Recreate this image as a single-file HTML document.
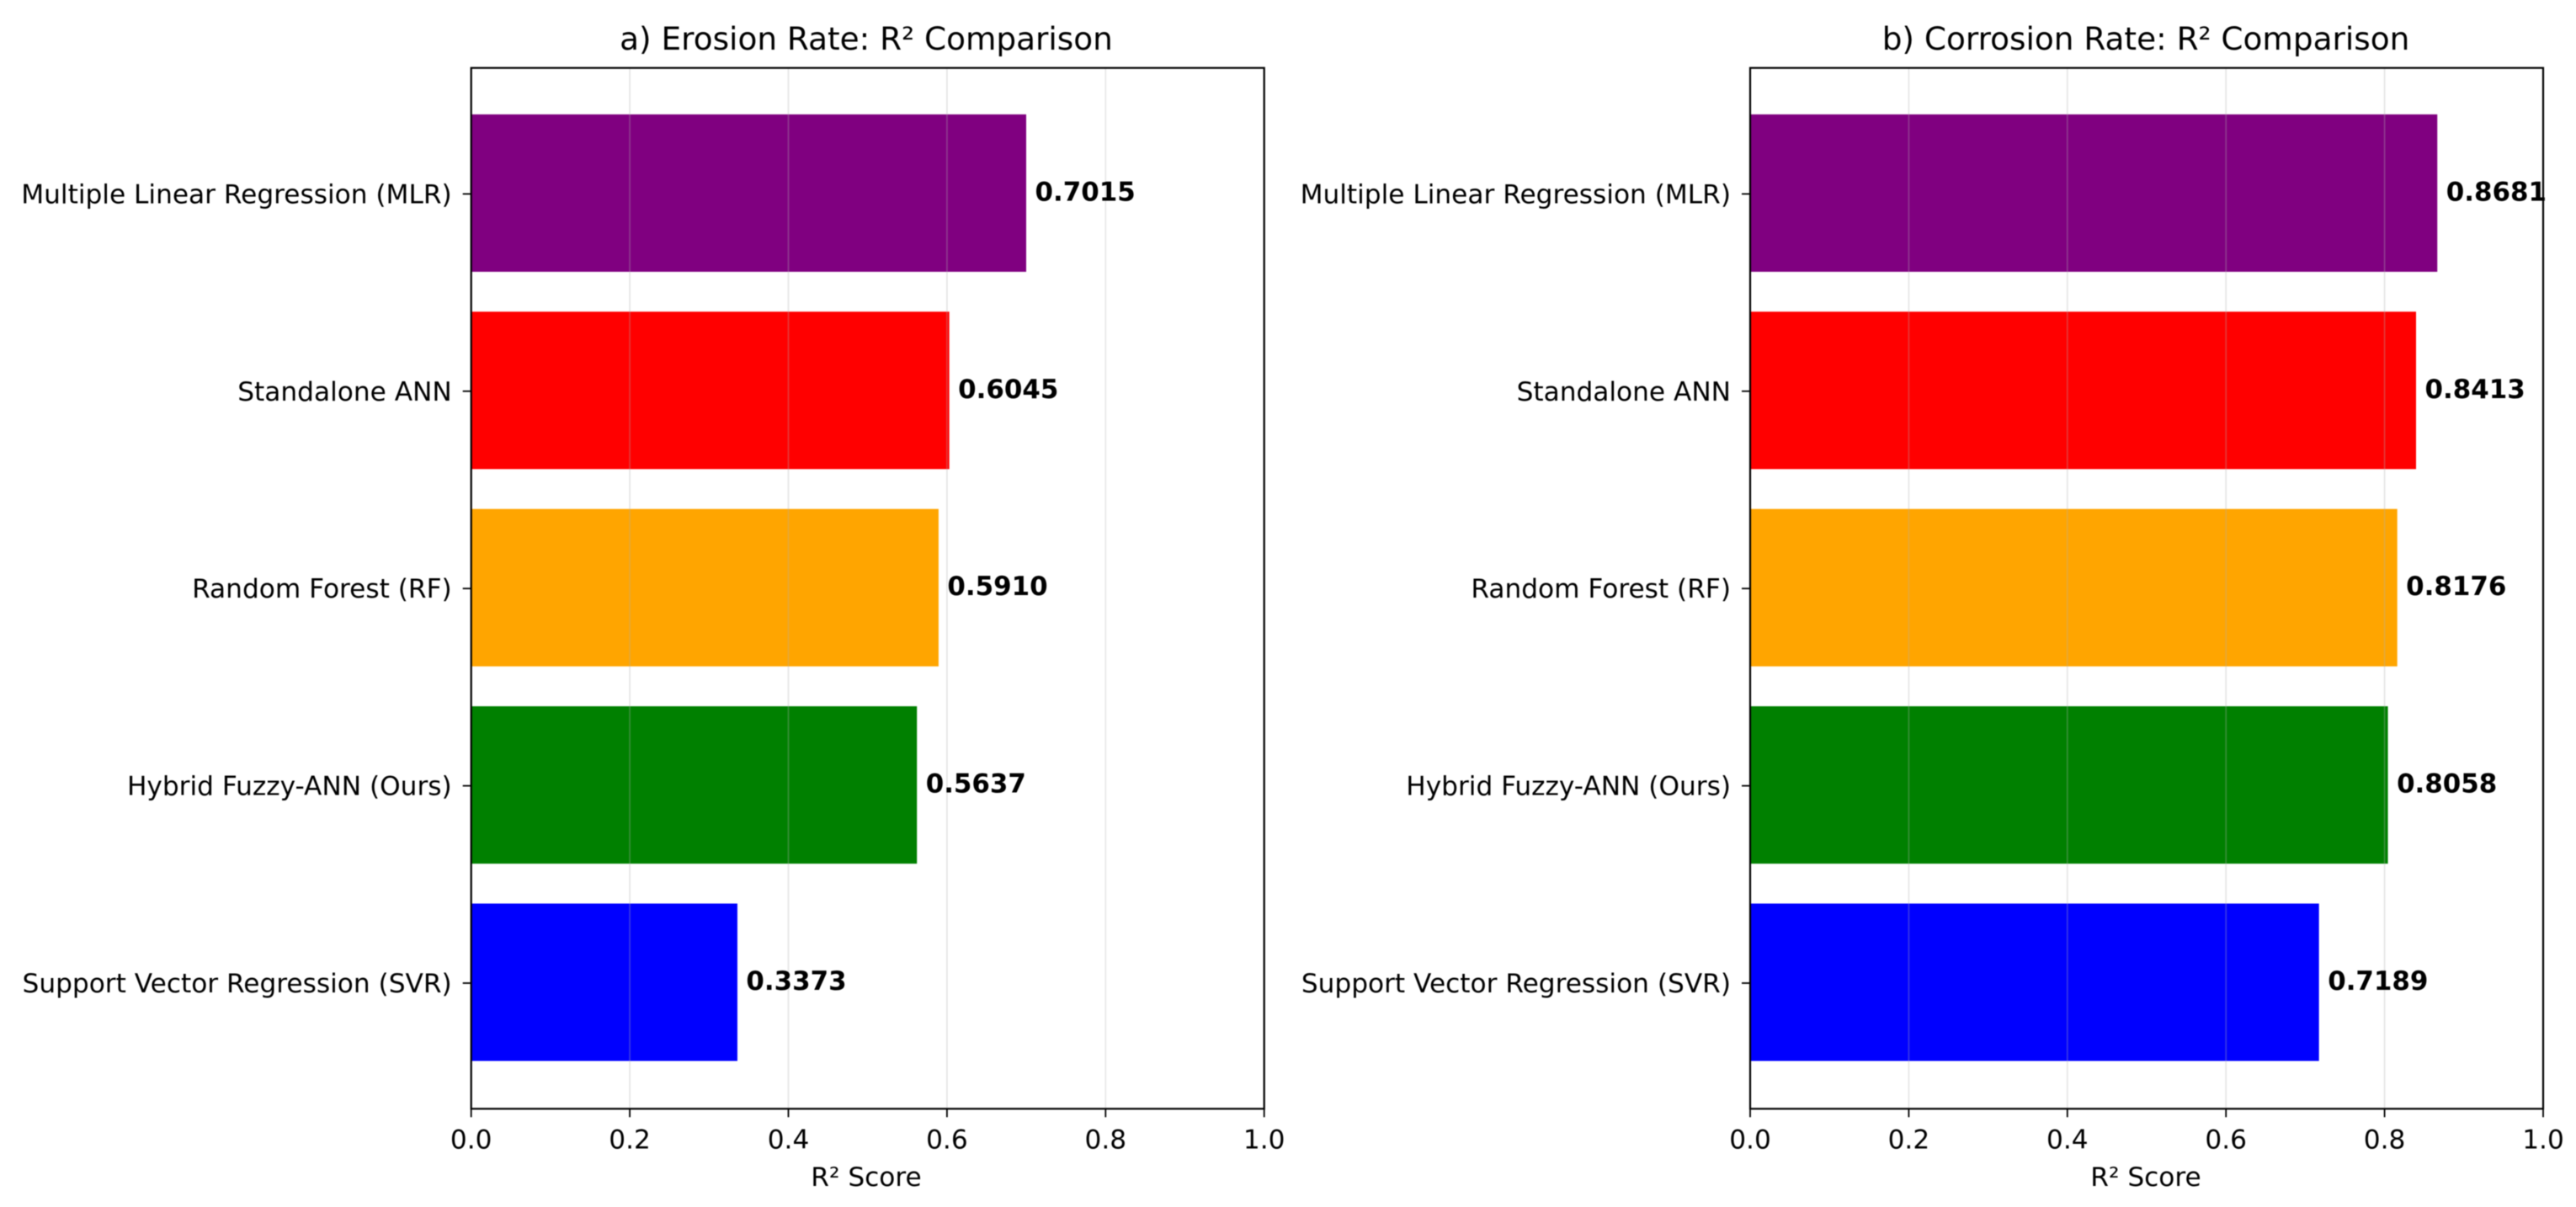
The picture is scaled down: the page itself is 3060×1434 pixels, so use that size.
<!DOCTYPE html>
<html lang="en">
<head>
<meta charset="utf-8">
<title>R² Comparison</title>
<style>
html,body{margin:0;padding:0;background:#fff;}
svg{display:block;filter:blur(0.5px);}
text{font-family:"DejaVu Sans","Liberation Sans",sans-serif;fill:#000;}
.tick-label{font-size:31.2px;}
.axis-title{font-size:31.2px;}
.panel-title{font-size:37.4px;}
.value-label{font-size:30.9px;font-weight:700;}
</style>
</head>
<body>
<svg id="figure" xmlns="http://www.w3.org/2000/svg" width="3060" height="1434" viewBox="0 0 3060 1434">
  <rect x="0" y="0" width="3060" height="1434" fill="#fff"/>
  <g id="panel-a">
    <text class="panel-title" x="1029" y="59" text-anchor="middle">a) Erosion Rate: R² Comparison</text>
    <text class="axis-title" x="1029" y="1409" text-anchor="middle">R² Score</text>
  </g>
  <g id="panel-b">
    <text class="panel-title" x="2549" y="59" text-anchor="middle">b) Corrosion Rate: R² Comparison</text>
    <text class="axis-title" x="2549" y="1409" text-anchor="middle">R² Score</text>
  </g>
</svg>
<script>
const categories = ["Multiple Linear Regression (MLR)", "Standalone ANN", "Random Forest (RF)", "Hybrid Fuzzy-ANN (Ours)", "Support Vector Regression (SVR)"];
const erosionValues = [0.7015, 0.6045, 0.5910, 0.5637, 0.3373];
const corrosionValues = [0.8681, 0.8413, 0.8176, 0.8058, 0.7189];
const xTickValues = [0, 0.2, 0.4, 0.6, 0.8, 1.0];
const barColors = ["#800080", "#ff0000", "#ffa500", "#008000", "#0000ff"];

const NS = "http://www.w3.org/2000/svg";
const AXIS_TOP = 80.7, AXIS_BOTTOM = 1317.3, AXIS_WIDTH = 942;
const BAND_START = 229.4, BAND_STEP = 234.4, BAR_HEIGHT = 187;

function make(tag, attrs, parent, content) {
  const el = document.createElementNS(NS, tag);
  for (const k in attrs) el.setAttribute(k, attrs[k]);
  if (content !== undefined) el.textContent = content;
  parent.appendChild(el);
  return el;
}

function drawPanel(group, values, left) {
  const xScale = v => left + v * AXIS_WIDTH;
  const yScale = i => BAND_START + i * BAND_STEP;

  values.forEach((v, i) => {
    const bar = make("rect", {x: xScale(0), y: yScale(i) - BAR_HEIGHT / 2, width: xScale(v) - xScale(0) - 1.5, height: BAR_HEIGHT, fill: barColors[i]}, group);
    
    
  });

  xTickValues.forEach(t => {
    const grid = make("line", {x1: xScale(t), x2: xScale(t), y1: AXIS_TOP, y2: AXIS_BOTTOM, stroke: "#b0b0b0", "stroke-opacity": 0.3, "stroke-width": 1.8}, group);
    
    

    const tick = make("line", {x1: xScale(t), x2: xScale(t), y1: AXIS_BOTTOM, y2: AXIS_BOTTOM + 10, stroke: "#000", "stroke-width": 1.8}, group);
    
    

    const label = make("text", {x: xScale(t), y: 1364.5, "text-anchor": "middle", class: "tick-label"}, group, t.toFixed(1));
    
    
  });

  categories.forEach((c, i) => {
    const tick = make("line", {x1: left - 10, x2: left, y1: yScale(i) + 1, y2: yScale(i) + 1, stroke: "#000", "stroke-width": 1.8}, group);
    
    

    const label = make("text", {x: left - 23, y: yScale(i) + 12, "text-anchor": "end", class: "tick-label"}, group, c);
    
    
  });

  values.forEach((v, i) => {
    const label = make("text", {x: xScale(v) + 9, y: yScale(i) + 9, class: "value-label"}, group, v.toFixed(4));
    
    
  });

  const frame = make("rect", {x: left, y: AXIS_TOP, width: AXIS_WIDTH, height: AXIS_BOTTOM - AXIS_TOP, fill: "none", stroke: "#000", "stroke-width": 2.2}, group);
  
  
}

drawPanel(document.getElementById("panel-a"), erosionValues, 559.7);
drawPanel(document.getElementById("panel-b"), corrosionValues, 2079);
</script>
</body>
</html>
